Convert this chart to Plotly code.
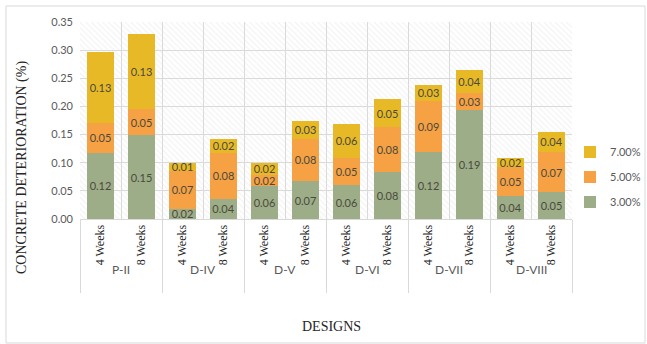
import plotly.graph_objects as go

designs = ["P-II", "D-IV", "D-V", "D-VI", "D-VII", "D-VIII"]
periods = ["4 Weeks", "8 Weeks"]

pct3 = [0.118, 0.149, 0.018, 0.036, 0.058, 0.067, 0.060, 0.083, 0.119, 0.193, 0.040, 0.048]
pct5 = [0.052, 0.046, 0.068, 0.082, 0.021, 0.076, 0.049, 0.080, 0.091, 0.031, 0.053, 0.071]
pct7 = [0.127, 0.133, 0.013, 0.024, 0.020, 0.031, 0.060, 0.050, 0.028, 0.040, 0.016, 0.036]

series_names = ["3.00%", "5.00%", "7.00%"]
series_colors = ["#9DAD88", "#F5A144", "#E7B927"]

# outer level kept for grouping/dividers; drawn as annotations closer to the axis
hidden = "color:rgba(0,0,0,0);font-size:12px"
outer = [f'<span style="{hidden}">{d}</span>' for d in designs for _ in periods]
inner = [p for _ in designs for p in periods]

fig = go.Figure()

# hatched plot-area background
fig.add_trace(go.Bar(
    x=[0.5], y=[1], width=[1], xaxis="x", yaxis="y",
    marker=dict(color="rgba(0,0,0,0)", line=dict(width=0),
                pattern=dict(shape="\\", fgcolor="#e2e2e2", bgcolor="rgba(0,0,0,0)",
                             size=4, solidity=0.25)),
    showlegend=False, hoverinfo="skip"))

ranks = {"3.00%": 3, "5.00%": 2, "7.00%": 1}
for name, vals, col in zip(series_names, [pct3, pct5, pct7], series_colors):
    fig.add_trace(go.Bar(
        x=[outer, inner], y=vals, name=name, xaxis="x2", yaxis="y2",
        marker=dict(color=col, line=dict(width=0)),
        width=0.68, legendgroup=name, legendrank=ranks[name],
        texttemplate="%{y:.2f}", textposition="inside", insidetextanchor="middle",
        textangle=0, textfont=dict(family="Lato", size=11, color="#4b4a3c"),
    ))

W, H = 647, 344
L, R, T, B = 80, 75, 22, 125
pw, ph = W - L - R, H - T - B

def px(xp):
    return (xp - L) / pw

def py(yp):
    return (H - B - yp) / ph

fig.update_layout(
    width=W, height=H,
    margin=dict(l=L, r=R, t=T, b=B, autoexpand=False),
    paper_bgcolor="white", plot_bgcolor="white",
    barmode="stack",
    uniformtext=dict(minsize=11, mode="show"),
    xaxis=dict(range=[0, 1], visible=False, fixedrange=True),
    yaxis=dict(range=[0, 1], visible=False, fixedrange=True),
    xaxis2=dict(type="multicategory", overlaying="x", anchor="y2",
                showgrid=True, gridcolor="#d9d9d9", gridwidth=1,
                tickson="boundaries", ticks="", tickangle=-90,
                showdividers=True, dividercolor="#d9d9d9", dividerwidth=1,
                tickfont=dict(family="Liberation Serif", size=12, color="#262626"),
                showline=True, linecolor="#d9d9d9"),
    yaxis2=dict(overlaying="y", anchor="x2", range=[0, 0.35], dtick=0.05,
                tickformat=".2f", showgrid=True, gridcolor="#d9d9d9",
                zeroline=False, ticks="", ticklabelstandoff=6,
                tickfont=dict(family="Lato", size=11, color="#595959")),
    legend=dict(x=px(646), y=py(177), xanchor="right", yanchor="middle",
                traceorder="grouped", tracegroupgap=6,
                font=dict(family="Lato", size=11, color="#595959"),
                itemwidth=30, bgcolor="rgba(0,0,0,0)"),
    showlegend=True,
)

n_per = len(periods)
for i, d in enumerate(designs):
    fig.add_annotation(text=d, xref="x2", yref="paper",
                       x=i * n_per + (n_per - 1) / 2, y=py(269),
                       xanchor="center", yanchor="middle", showarrow=False,
                       font=dict(family="Lato", size=12, color="#595959"))

fig.add_annotation(text="CONCRETE DETERIORATION (%)", textangle=-90,
                   xref="paper", yref="paper", x=px(22), y=py(168),
                   xanchor="center", yanchor="middle", showarrow=False,
                   font=dict(family="Liberation Serif", size=14, color="#262626"))
fig.add_annotation(text="DESIGNS", xref="paper", yref="paper",
                   x=px(331), y=py(326), xanchor="center", yanchor="middle",
                   showarrow=False,
                   font=dict(family="Liberation Serif", size=14, color="#262626"))

fig.add_shape(type="rect", xref="paper", yref="paper",
              x0=px(6), x1=px(645), y0=py(343), y1=py(6),
              line=dict(color="#d9d9d9", width=1), fillcolor="rgba(0,0,0,0)",
              layer="below")

fig.write_html("out.html")
